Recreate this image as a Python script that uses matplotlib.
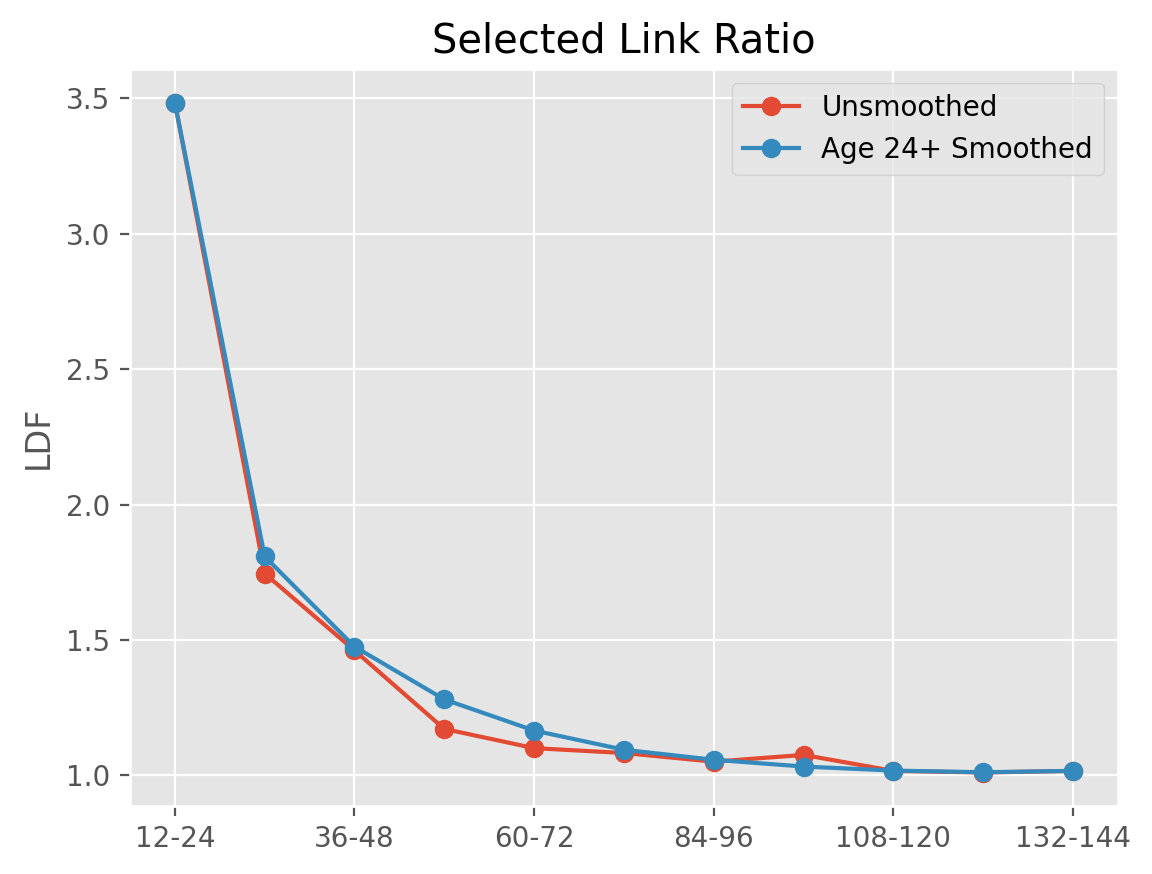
import matplotlib
matplotlib.use("Agg")
import matplotlib.pyplot as plt

plt.style.use("ggplot")

categories = ["12-24", "24-36", "36-48", "48-60", "60-72", "72-84",
              "84-96", "96-108", "108-120", "120-132", "132-144"]
unsmoothed = [3.485, 1.745, 1.461, 1.171, 1.100, 1.082, 1.050, 1.075, 1.016, 1.010, 1.016]
smoothed = [3.485, 1.808, 1.475, 1.280, 1.165, 1.094, 1.057, 1.032, 1.017, 1.011, 1.016]

fig = plt.figure(figsize=(5.76, 4.37), dpi=200)
ax = fig.add_axes([0.1128, 0.0778, 0.8576, 0.8432])

x = list(range(len(categories)))
ax.plot(x, unsmoothed, marker="o", label="Unsmoothed")
ax.plot(x, smoothed, marker="o", label="Age 24+ Smoothed")

ax.set_xticks(x[::2])
ax.set_xticklabels(categories[::2])
ax.set_xlim(-0.5, 10.5)
ax.set_ylabel("LDF")
ax.set_title("Selected Link Ratio", fontsize=14.4)
ax.legend(loc="upper right", fontsize=10)

fig.savefig("out.png", dpi=200)
